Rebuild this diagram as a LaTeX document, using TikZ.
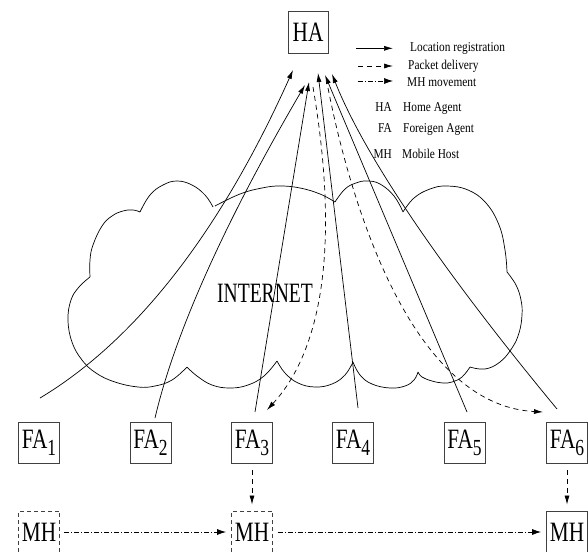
\documentclass[tikz,border=0pt]{standalone}
\usepackage{fontspec}
\setmainfont{Liberation Serif}
\usepackage{graphicx}
\usetikzlibrary{arrows.meta,calc}
\newcommand{\bigtxt}[1]{\scalebox{0.76}[1]{\fontsize{28}{28}\selectfont #1}}
\newcommand{\subtxt}[1]{\raisebox{-7pt}{\fontsize{23}{23}\selectfont #1}}
\newcommand{\legtxt}[1]{\scalebox{0.84}[1]{\fontsize{13.5}{13.5}\selectfont #1}}
\begin{document}
\begin{tikzpicture}[x=1pt,y=-1pt,
  agent/.style={draw=black!75, line width=0.9pt, minimum width=41pt, minimum height=41pt, inner sep=0pt},
  mhbox/.style={agent, minimum height=42pt},
  ghost/.style={mhbox, dash pattern=on 4pt off 3pt},
  reg/.style={-{Latex[length=9pt,width=5pt]}, line width=0.7pt},
  pkt/.style={reg, dash pattern=on 5pt off 4pt},
  mov/.style={-{Latex[length=9pt,width=6pt]}, line width=0.7pt, dash pattern=on 5pt off 2pt on 1pt off 2pt},
  cloudline/.style={line width=0.7pt},
  legend/.style={anchor=base west, inner sep=0pt},
  abbr/.style={anchor=base east, inner sep=0pt}]
\useasboundingbox (0,0) rectangle (588,551);

% cloud
\draw[cloudline]
  plot[smooth, tension=0.7] coordinates {(140,212) (150,195) (163,185) (177,181) (192,185) (205,195) (213,207)}
  plot[smooth, tension=0.7] coordinates {(215,206) (240,194) (262,188) (280,186) (300,188) (320,194) (335,202)}
  plot[smooth, tension=0.7] coordinates {(335,202) (345,189) (356,183) (367,181) (380,184) (394,196) (403,212)}
  plot[smooth, tension=0.7] coordinates {(403,212) (414,198) (430,189) (447,186) (468,190) (486,203) (499,225) (505,250) (507,272)}
  plot[smooth, tension=0.7] coordinates {(507,272) (516,285) (521,300) (522,315) (519,333) (512,348) (500,362) (485,369) (470,367)}
  plot[smooth, tension=0.7] coordinates {(470,367) (462,377) (452,382) (443,383) (432,381) (422,377) (418,372)}
  plot[smooth, tension=0.7] coordinates {(418,372) (414,380) (405,386) (390,388) (372,384) (360,375) (353,362)}
  plot[smooth, tension=0.7] coordinates {(353,362) (345,375) (332,384) (315,387) (298,383) (285,373) (277,361)}
  plot[smooth, tension=0.7] coordinates {(277,361) (264,376) (248,385) (230,388) (212,385) (197,376) (187,367)}
  plot[smooth, tension=0.7] coordinates {(187,367) (172,380) (155,386) (138,387) (115,382) (96,373) (82,360) (72,342) (68,320) (71,300) (79,287) (90,277)}
  plot[smooth, tension=0.7] coordinates {(90,277) (90,260) (93,245) (102,226) (112,216) (123,211) (133,210) (140,212)};
\node[inner sep=0pt] (net) at (265,293) {\scalebox{0.7}[1]{\fontsize{28}{28}\selectfont INTERNET}};

% agents
\node[agent, minimum width=40pt, minimum height=42pt] (ha) at (308,32) {\bigtxt{HA}};
\node[agent] (fa1) at (39,442.5) {\bigtxt{FA\subtxt{1}}};
\node[agent] (fa2) at (150.5,442.5) {\bigtxt{FA\subtxt{2}}};
\node[agent] (fa3) at (252,442.5) {\bigtxt{FA\subtxt{3}}};
\node[agent] (fa4) at (353,442.5) {\bigtxt{FA\subtxt{4}}};
\node[agent] (fa5) at (464.5,442.5) {\bigtxt{FA\subtxt{5}}};
\node[agent] (fa6) at (567,442.5) {\bigtxt{FA\subtxt{6}}};
\node[ghost] (mh1) at (39,532) {\bigtxt{MH}};
\node[ghost] (mh2) at (252,532) {\bigtxt{MH}};
\node[mhbox] (mh3) at (567,532) {\bigtxt{MH}};

% registration paths
\coordinate (s1) at (40,398);  \coordinate (q1) at (185,311); \coordinate (t1) at (293,70);
\coordinate (s2) at (155,418); \coordinate (q2) at (185,290); \coordinate (t2) at (305,85);
\coordinate (s3) at (255,412); \coordinate (t3) at (309,82);
\coordinate (s4) at (358,408); \coordinate (t4) at (318,73);
\coordinate (s5) at (467,412); \coordinate (t5) at (325,75);
\coordinate (s6) at (557,409); \coordinate (q6) at (380,195); \coordinate (t6) at (332,74);
\draw[reg] (s1) .. controls ($(s1)!0.667!(q1)$) and ($(t1)!0.667!(q1)$) .. (t1);
\draw[reg] (s2) .. controls ($(s2)!0.667!(q2)$) and ($(t2)!0.667!(q2)$) .. (t2);
\draw[reg] (s3) -- (t3);
\draw[reg] (s4) -- (t4);
\draw[reg] (s5) -- (t5);
\draw[reg] (s6) .. controls ($(s6)!0.667!(q6)$) and ($(t6)!0.667!(q6)$) .. (t6);

% packet delivery
\coordinate (p3) at (313,87); \coordinate (e3) at (267,410);
\coordinate (p6) at (328,88); \coordinate (e6) at (543,412);
\draw[pkt] (p3) .. controls (339,240) and (324,348) .. (e3);
\draw[pkt] (p6) .. controls (350,200) and (410,405) .. (e6);
\draw[pkt, shorten <=7pt, shorten >=6pt] (fa3) -- (mh2);
\draw[pkt, shorten <=7pt, shorten >=6pt] (fa6) -- (mh3);

% movement
\draw[mov, shorten <=4.5pt, shorten >=5pt] (mh1) -- (mh2);
\draw[mov, shorten <=5pt, shorten >=5pt] (mh2) -- (mh3);

% legend
\coordinate (la) at (356,48.3); \coordinate (lb) at (393,48.3);
\coordinate (lc) at (358,66); \coordinate (ld) at (393,66);
\coordinate (le) at (358,81); \coordinate (lf) at (393,81);
\draw[reg] (la) -- (lb);
\draw[pkt] (lc) -- (ld);
\draw[mov] (le) -- (lf);
\node[legend] (l1) at (410,51.7) {\legtxt{Location registration}};
\node[legend] (l2) at (408,70) {\legtxt{Packet delivery}};
\node[legend] (l3) at (407,86.5) {\legtxt{MH movement}};
\node[abbr] (a1) at (392,111.5) {\legtxt{HA}};
\node[legend] (d1) at (403,111.5) {\legtxt{Home Agent}};
\node[abbr] (a2) at (392,132.5) {\legtxt{FA}};
\node[legend] (d2) at (403,132.5) {\legtxt{Foreigen Agent}};
\node[abbr] (a3) at (392,158) {\legtxt{MH}};
\node[legend] (d3) at (402,158) {\legtxt{Mobile Host}};
\end{tikzpicture}
\end{document}
